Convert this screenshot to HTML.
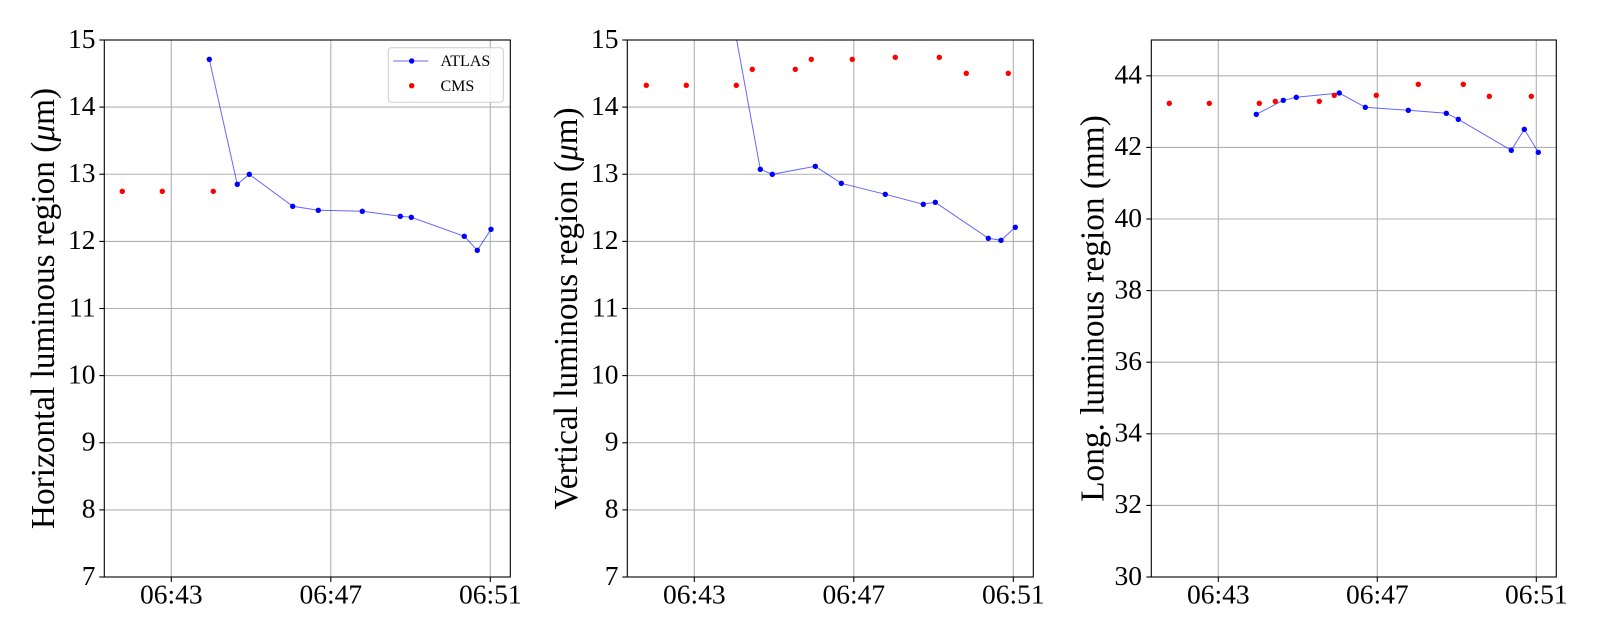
<!DOCTYPE html>
<html><head><meta charset="utf-8"><style>
html,body{margin:0;padding:0;background:#fff;}
svg{display:block;font-family:"Liberation Serif","Times New Roman",serif;}
svg text{font-family:"Liberation Serif","Times New Roman",serif;fill:#000;}
.tk{font-size:27.5px;font-family:"Liberation Serif","Times New Roman",serif;}
.yl{font-size:33.3px;font-family:"Liberation Serif","Times New Roman",serif;}
.lg{font-size:16px;font-family:"Liberation Serif","Times New Roman",serif;}
.grid{stroke:#b0b0b0;stroke-width:1.1;}
.ax{fill:none;stroke:#000;stroke-width:1.1;}
.tick{stroke:#000;stroke-width:1.1;}
.ln{fill:none;stroke:#0000ff;stroke-opacity:0.6;stroke-width:1;}
.b{fill:#0000ff;}
.r{fill:#ff0000;}
</style></head><body>
<svg width="1600" height="640" viewBox="0 0 1600 640" xmlns="http://www.w3.org/2000/svg" font-family="Liberation Serif, serif">
<defs>
<clipPath id="c1"><rect x="104.3" y="40" width="406" height="537"/></clipPath>
<clipPath id="c2"><rect x="627.3" y="40" width="406" height="537"/></clipPath>
<clipPath id="c3"><rect x="1151.3" y="40" width="405" height="537"/></clipPath>
</defs>
<rect width="1600" height="640" fill="#fff"/>

<!-- ===== Panel 1 ===== -->
<g>
<g class="grid">
<line x1="171.3" y1="40" x2="171.3" y2="577"/>
<line x1="330.8" y1="40" x2="330.8" y2="577"/>
<line x1="490.3" y1="40" x2="490.3" y2="577"/>
<line x1="104.3" y1="509.9" x2="510.3" y2="509.9"/>
<line x1="104.3" y1="442.75" x2="510.3" y2="442.75"/>
<line x1="104.3" y1="375.6" x2="510.3" y2="375.6"/>
<line x1="104.3" y1="308.5" x2="510.3" y2="308.5"/>
<line x1="104.3" y1="241.4" x2="510.3" y2="241.4"/>
<line x1="104.3" y1="174.25" x2="510.3" y2="174.25"/>
<line x1="104.3" y1="107.1" x2="510.3" y2="107.1"/>
</g>
<g class="tick">
<line x1="171.3" y1="577" x2="171.3" y2="582"/>
<line x1="330.8" y1="577" x2="330.8" y2="582"/>
<line x1="490.3" y1="577" x2="490.3" y2="582"/>
<line x1="99.3" y1="577" x2="104.3" y2="577"/>
<line x1="99.3" y1="509.9" x2="104.3" y2="509.9"/>
<line x1="99.3" y1="442.75" x2="104.3" y2="442.75"/>
<line x1="99.3" y1="375.6" x2="104.3" y2="375.6"/>
<line x1="99.3" y1="308.5" x2="104.3" y2="308.5"/>
<line x1="99.3" y1="241.4" x2="104.3" y2="241.4"/>
<line x1="99.3" y1="174.25" x2="104.3" y2="174.25"/>
<line x1="99.3" y1="107.1" x2="104.3" y2="107.1"/>
<line x1="99.3" y1="40" x2="104.3" y2="40"/>
</g>
<g clip-path="url(#c1)">
<polyline class="ln" points="209.3,59.3 237.3,184.3 249.3,174.3 292.7,206.3 318.3,210.3 362.3,211.3 400.3,216.3 411.3,217.3 464.3,236.3 477.3,250.3 491,229.3"/>
<g class="b">
<circle cx="209.3" cy="59.3" r="2.7"/><circle cx="237.3" cy="184.3" r="2.7"/><circle cx="249.3" cy="174.3" r="2.7"/>
<circle cx="292.7" cy="206.3" r="2.7"/><circle cx="318.3" cy="210.3" r="2.7"/><circle cx="362.3" cy="211.3" r="2.7"/>
<circle cx="400.3" cy="216.3" r="2.7"/><circle cx="411.3" cy="217.3" r="2.7"/><circle cx="464.3" cy="236.3" r="2.7"/>
<circle cx="477.3" cy="250.3" r="2.7"/><circle cx="491" cy="229.3" r="2.7"/>
</g>
<g class="r">
<circle cx="122.3" cy="191.3" r="2.7"/><circle cx="162.3" cy="191.3" r="2.7"/><circle cx="213.3" cy="191.3" r="2.7"/>
</g>
</g>
<rect class="ax" x="104.3" y="40" width="406" height="537"/>
<g class="tk" text-anchor="end" font-family="Liberation Serif, serif">
<text x="95.5" y="584.8">7</text>
<text x="95.5" y="517.7">8</text>
<text x="95.5" y="450.5">9</text>
<text x="95.5" y="383.4">10</text>
<text x="95.5" y="316.3">11</text>
<text x="95.5" y="249.2">12</text>
<text x="95.5" y="182">13</text>
<text x="95.5" y="114.9">14</text>
<text x="95.5" y="47.8">15</text>
</g>
<g class="tk" text-anchor="middle" font-family="Liberation Serif, serif">
<text x="171.3" y="603.3">06:43</text>
<text x="330.8" y="603.3">06:47</text>
<text x="490.3" y="603.3">06:51</text>
</g>
<text class="yl" text-anchor="middle" transform="translate(54,308.5) rotate(-90)">Horizontal luminous region (<tspan font-style="italic">μ</tspan>m)</text>
<!-- legend -->
<rect x="388.3" y="47.7" width="115" height="54.6" rx="3" ry="3" fill="#fff" fill-opacity="0.8" stroke="#cccccc" stroke-width="1"/>
<line x1="393.3" y1="61" x2="428.3" y2="61" stroke="#0000ff" stroke-opacity="0.6" stroke-width="1"/>
<circle cx="411.7" cy="61" r="2.7" fill="#0000ff"/>
<circle cx="411.7" cy="85.7" r="2.7" fill="#ff0000"/>
<text class="lg" x="440.5" y="66">ATLAS</text>
<text class="lg" x="440.5" y="91">CMS</text>
</g>

<!-- ===== Panel 2 ===== -->
<g>
<g class="grid">
<line x1="694.3" y1="40" x2="694.3" y2="577"/>
<line x1="853.8" y1="40" x2="853.8" y2="577"/>
<line x1="1013.3" y1="40" x2="1013.3" y2="577"/>
<line x1="627.3" y1="509.9" x2="1033.3" y2="509.9"/>
<line x1="627.3" y1="442.75" x2="1033.3" y2="442.75"/>
<line x1="627.3" y1="375.6" x2="1033.3" y2="375.6"/>
<line x1="627.3" y1="308.5" x2="1033.3" y2="308.5"/>
<line x1="627.3" y1="241.4" x2="1033.3" y2="241.4"/>
<line x1="627.3" y1="174.25" x2="1033.3" y2="174.25"/>
<line x1="627.3" y1="107.1" x2="1033.3" y2="107.1"/>
</g>
<g class="tick">
<line x1="694.3" y1="577" x2="694.3" y2="582"/>
<line x1="853.8" y1="577" x2="853.8" y2="582"/>
<line x1="1013.3" y1="577" x2="1013.3" y2="582"/>
<line x1="622.3" y1="577" x2="627.3" y2="577"/>
<line x1="622.3" y1="509.9" x2="627.3" y2="509.9"/>
<line x1="622.3" y1="442.75" x2="627.3" y2="442.75"/>
<line x1="622.3" y1="375.6" x2="627.3" y2="375.6"/>
<line x1="622.3" y1="308.5" x2="627.3" y2="308.5"/>
<line x1="622.3" y1="241.4" x2="627.3" y2="241.4"/>
<line x1="622.3" y1="174.25" x2="627.3" y2="174.25"/>
<line x1="622.3" y1="107.1" x2="627.3" y2="107.1"/>
<line x1="622.3" y1="40" x2="627.3" y2="40"/>
</g>
<g clip-path="url(#c2)">
<polyline class="ln" points="732.3,16 760.3,169.3 772.3,174.3 815.3,166.3 841.3,183.3 885.3,194.3 923.3,204.3 935.3,202.3 988.3,238.3 1001,240.3 1015.3,227.3"/>
<g class="b">
<circle cx="732.3" cy="16" r="2.7"/><circle cx="760.3" cy="169.3" r="2.7"/><circle cx="772.3" cy="174.3" r="2.7"/>
<circle cx="815.3" cy="166.3" r="2.7"/><circle cx="841.3" cy="183.3" r="2.7"/><circle cx="885.3" cy="194.3" r="2.7"/>
<circle cx="923.3" cy="204.3" r="2.7"/><circle cx="935.3" cy="202.3" r="2.7"/><circle cx="988.3" cy="238.3" r="2.7"/>
<circle cx="1001" cy="240.3" r="2.7"/><circle cx="1015.3" cy="227.3" r="2.7"/>
</g>
<g class="r">
<circle cx="646.3" cy="85.3" r="2.7"/><circle cx="686.3" cy="85.3" r="2.7"/><circle cx="736.3" cy="85.3" r="2.7"/>
<circle cx="752.3" cy="69.3" r="2.7"/><circle cx="795.3" cy="69.3" r="2.7"/><circle cx="811.3" cy="59.3" r="2.7"/>
<circle cx="852.3" cy="59.3" r="2.7"/><circle cx="895.3" cy="57.3" r="2.7"/><circle cx="939.3" cy="57.3" r="2.7"/>
<circle cx="966.3" cy="73.3" r="2.7"/><circle cx="1008.3" cy="73.3" r="2.7"/>
</g>
</g>
<rect class="ax" x="627.3" y="40" width="406" height="537"/>
<g class="tk" text-anchor="end" font-family="Liberation Serif, serif">
<text x="618.5" y="584.8">7</text>
<text x="618.5" y="517.7">8</text>
<text x="618.5" y="450.5">9</text>
<text x="618.5" y="383.4">10</text>
<text x="618.5" y="316.3">11</text>
<text x="618.5" y="249.2">12</text>
<text x="618.5" y="182">13</text>
<text x="618.5" y="114.9">14</text>
<text x="618.5" y="47.8">15</text>
</g>
<g class="tk" text-anchor="middle" font-family="Liberation Serif, serif">
<text x="694.3" y="603.3">06:43</text>
<text x="853.8" y="603.3">06:47</text>
<text x="1013.3" y="603.3">06:51</text>
</g>
<text class="yl" text-anchor="middle" transform="translate(577,308.5) rotate(-90)">Vertical luminous region (<tspan font-style="italic">μ</tspan>m)</text>
</g>

<!-- ===== Panel 3 ===== -->
<g>
<g class="grid">
<line x1="1218.3" y1="40" x2="1218.3" y2="577"/>
<line x1="1377.3" y1="40" x2="1377.3" y2="577"/>
<line x1="1536.3" y1="40" x2="1536.3" y2="577"/>
<line x1="1151.3" y1="505.4" x2="1556.3" y2="505.4"/>
<line x1="1151.3" y1="433.8" x2="1556.3" y2="433.8"/>
<line x1="1151.3" y1="362.2" x2="1556.3" y2="362.2"/>
<line x1="1151.3" y1="290.6" x2="1556.3" y2="290.6"/>
<line x1="1151.3" y1="219" x2="1556.3" y2="219"/>
<line x1="1151.3" y1="147.4" x2="1556.3" y2="147.4"/>
<line x1="1151.3" y1="75.8" x2="1556.3" y2="75.8"/>
</g>
<g class="tick">
<line x1="1218.3" y1="577" x2="1218.3" y2="582"/>
<line x1="1377.3" y1="577" x2="1377.3" y2="582"/>
<line x1="1536.3" y1="577" x2="1536.3" y2="582"/>
<line x1="1146.3" y1="577" x2="1151.3" y2="577"/>
<line x1="1146.3" y1="505.4" x2="1151.3" y2="505.4"/>
<line x1="1146.3" y1="433.8" x2="1151.3" y2="433.8"/>
<line x1="1146.3" y1="362.2" x2="1151.3" y2="362.2"/>
<line x1="1146.3" y1="290.6" x2="1151.3" y2="290.6"/>
<line x1="1146.3" y1="219" x2="1151.3" y2="219"/>
<line x1="1146.3" y1="147.4" x2="1151.3" y2="147.4"/>
<line x1="1146.3" y1="75.8" x2="1151.3" y2="75.8"/>
</g>
<g clip-path="url(#c3)">
<polyline class="ln" points="1256.3,114.3 1283.3,100.3 1296.3,97.3 1339.3,93 1365.3,107.3 1408.3,110.3 1446.3,113.3 1458.3,119.3 1511.3,150.3 1524.3,129.3 1538.3,152.3"/>
<g class="r">
<circle cx="1169.3" cy="103.3" r="2.7"/><circle cx="1209.3" cy="103.3" r="2.7"/><circle cx="1259.3" cy="103.3" r="2.7"/>
<circle cx="1275.3" cy="101.3" r="2.7"/><circle cx="1319.3" cy="101.3" r="2.7"/><circle cx="1334.3" cy="95.3" r="2.7"/>
<circle cx="1376.3" cy="95.3" r="2.7"/><circle cx="1418.3" cy="84.3" r="2.7"/><circle cx="1463.3" cy="84.3" r="2.7"/>
<circle cx="1489.3" cy="96.3" r="2.7"/><circle cx="1531.3" cy="96.3" r="2.7"/>
</g>
<g class="b">
<circle cx="1256.3" cy="114.3" r="2.7"/><circle cx="1283.3" cy="100.3" r="2.7"/><circle cx="1296.3" cy="97.3" r="2.7"/>
<circle cx="1339.3" cy="93" r="2.7"/><circle cx="1365.3" cy="107.3" r="2.7"/><circle cx="1408.3" cy="110.3" r="2.7"/>
<circle cx="1446.3" cy="113.3" r="2.7"/><circle cx="1458.3" cy="119.3" r="2.7"/><circle cx="1511.3" cy="150.3" r="2.7"/>
<circle cx="1524.3" cy="129.3" r="2.7"/><circle cx="1538.3" cy="152.3" r="2.7"/>
</g>
</g>
<rect class="ax" x="1151.3" y="40" width="405" height="537"/>
<g class="tk" text-anchor="end" font-family="Liberation Serif, serif">
<text x="1142" y="584.8">30</text>
<text x="1142" y="513.2">32</text>
<text x="1142" y="441.6">34</text>
<text x="1142" y="370">36</text>
<text x="1142" y="298.4">38</text>
<text x="1142" y="226.8">40</text>
<text x="1142" y="155.2">42</text>
<text x="1142" y="83.6">44</text>
</g>
<g class="tk" text-anchor="middle" font-family="Liberation Serif, serif">
<text x="1218.3" y="603.3">06:43</text>
<text x="1377.3" y="603.3">06:47</text>
<text x="1536.3" y="603.3">06:51</text>
</g>
<text class="yl" text-anchor="middle" transform="translate(1103.3,308.5) rotate(-90)">Long. luminous region (mm)</text>
</g>
</svg>
</body></html>
